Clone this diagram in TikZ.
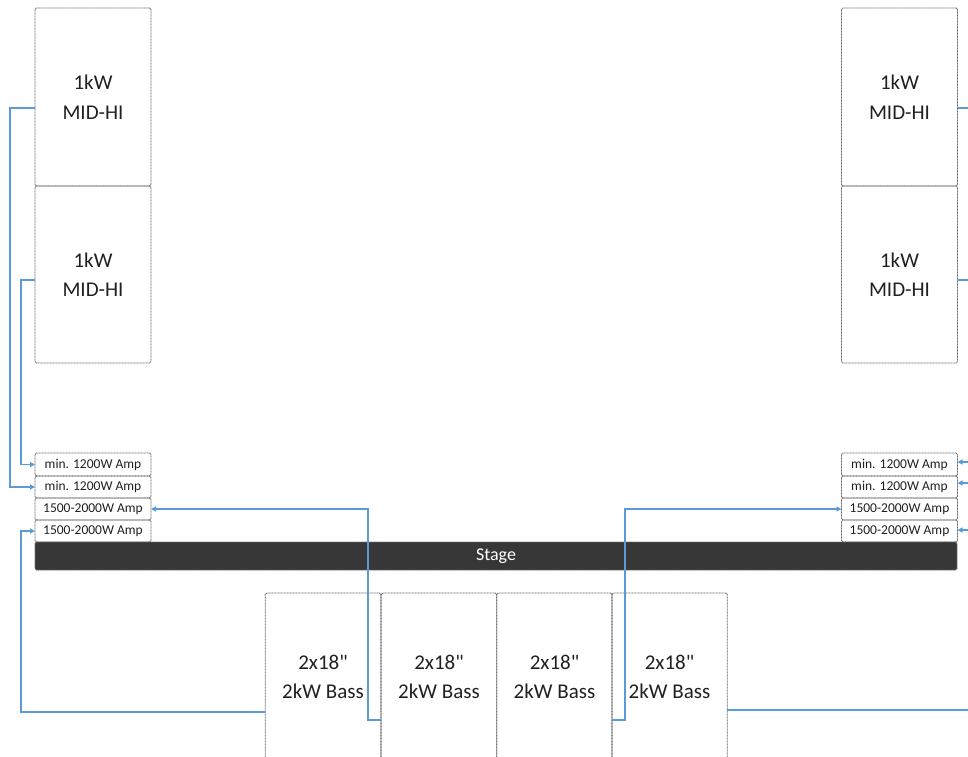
\documentclass[tikz,border=0pt]{standalone}
\usepackage{fontspec}
\setmainfont{Carlito}[Ligatures=TeXOff]
\usetikzlibrary{arrows.meta}
\definecolor{wire}{HTML}{5B9BD5}
\definecolor{edge}{HTML}{6A6A6A}
\definecolor{stagefill}{HTML}{373737}
\definecolor{txt}{HTML}{202020}
\begin{document}
\begin{tikzpicture}[x=1pt,y=-1pt,
  box/.style={draw=edge,line width=0.9pt,dash pattern=on 1pt off 0.5pt,rounded corners=1.5pt,
    inner sep=0pt,outer sep=0pt,align=center,text=txt},
  spk/.style={box,minimum width=116pt,font=\fontsize{21}{29.5}\selectfont},
  amp/.style={box,minimum width=116pt,minimum height=22pt,font=\fontsize{13.5}{15}\selectfont},
  bass/.style={box,minimum width=115.5pt,minimum height=168pt,font=\fontsize{21}{29.5}\selectfont},
  wireln/.style={draw=wire,line width=1.3pt},
  wirearr/.style={wireln,-{Triangle[length=5pt,width=5pt]}}]
\useasboundingbox (0,0) rectangle (968,756);
\begin{scope}
\clip (0,0) rectangle (968,756);
% left speakers
\node[spk,minimum height=178pt] (lm1) at (93,97) {1kW\\MID-HI};
\node[spk,minimum height=177pt] (lm2) at (93,274.5) {1kW\\MID-HI};
% right speakers
\node[spk,minimum height=178pt] (rm1) at (899.5,97) {1kW\\MID-HI};
\node[spk,minimum height=177pt] (rm2) at (899.5,274.5) {1kW\\MID-HI};
% left amps
\node[amp,minimum height=23pt] (la1) at (93,464.5) {min. 1200W Amp};
\node[amp] (la2) at (93,487) {min. 1200W Amp};
\node[amp] (la3) at (93,509) {1500-2000W Amp};
\node[amp] (la4) at (93,531) {1500-2000W Amp};
% right amps
\node[amp,minimum height=23pt] (ra1) at (899.5,464.5) {min. 1200W Amp};
\node[amp] (ra2) at (899.5,487) {min. 1200W Amp};
\node[amp] (ra3) at (899.5,509) {1500-2000W Amp};
\node[amp] (ra4) at (899.5,531) {1500-2000W Amp};
% stage
\node[box,fill=stagefill,draw=edge,minimum width=922pt,minimum height=28pt,
  text=white,font=\fontsize{18}{20}\selectfont] (stage) at (496,556) {Stage};
% bass
\node[bass] (b1) at (323,677) {2x18"\\2kW Bass};
\node[bass] (b2) at (439,677) {2x18"\\2kW Bass};
\node[bass] (b3) at (554.5,677) {2x18"\\2kW Bass};
\node[bass] (b4) at (669.5,677) {2x18"\\2kW Bass};
% free ends at the right edge
\coordinate (e1) at (968,108);
\coordinate (e2) at (968,280);
\coordinate (e3) at (968,462);
\coordinate (e4) at (968,483);
\coordinate (e5) at (968,530);
\coordinate (e6) at (968,710);
% bends
\coordinate (k1) at (10,108);
\coordinate (k2) at (21,280);
\coordinate (k3) at (21,712);
\coordinate (k4) at (368,720);
\coordinate (k5) at (625,720);
% connectors
\draw[wirearr] (lm1.west |- k1) -- (k1) |- (la2.west);
\draw[wirearr] (lm2.west |- k2) -- (k2) |- (la1.west);
\draw[wirearr] (b1.west |- k3) -- (k3) |- (la4.west);
\draw[wirearr] (b2.west |- k4) -- (k4) |- (la3.east);
\draw[wirearr] (b4.west |- k5) -- (k5) |- (ra3.west);
\draw[wireln] (b4.east |- e6) -- (e6);
\draw[wireln] (rm1.east |- e1) -- (e1);
\draw[wireln] (rm2.east |- e2) -- (e2);
\draw[wirearr] (e3) -- (ra1.east |- e3);
\draw[wirearr] (e4) -- (ra2.east |- e4);
\draw[wirearr] (e5) -- (ra4.east |- e5);
\end{scope}
\end{tikzpicture}
\end{document}
